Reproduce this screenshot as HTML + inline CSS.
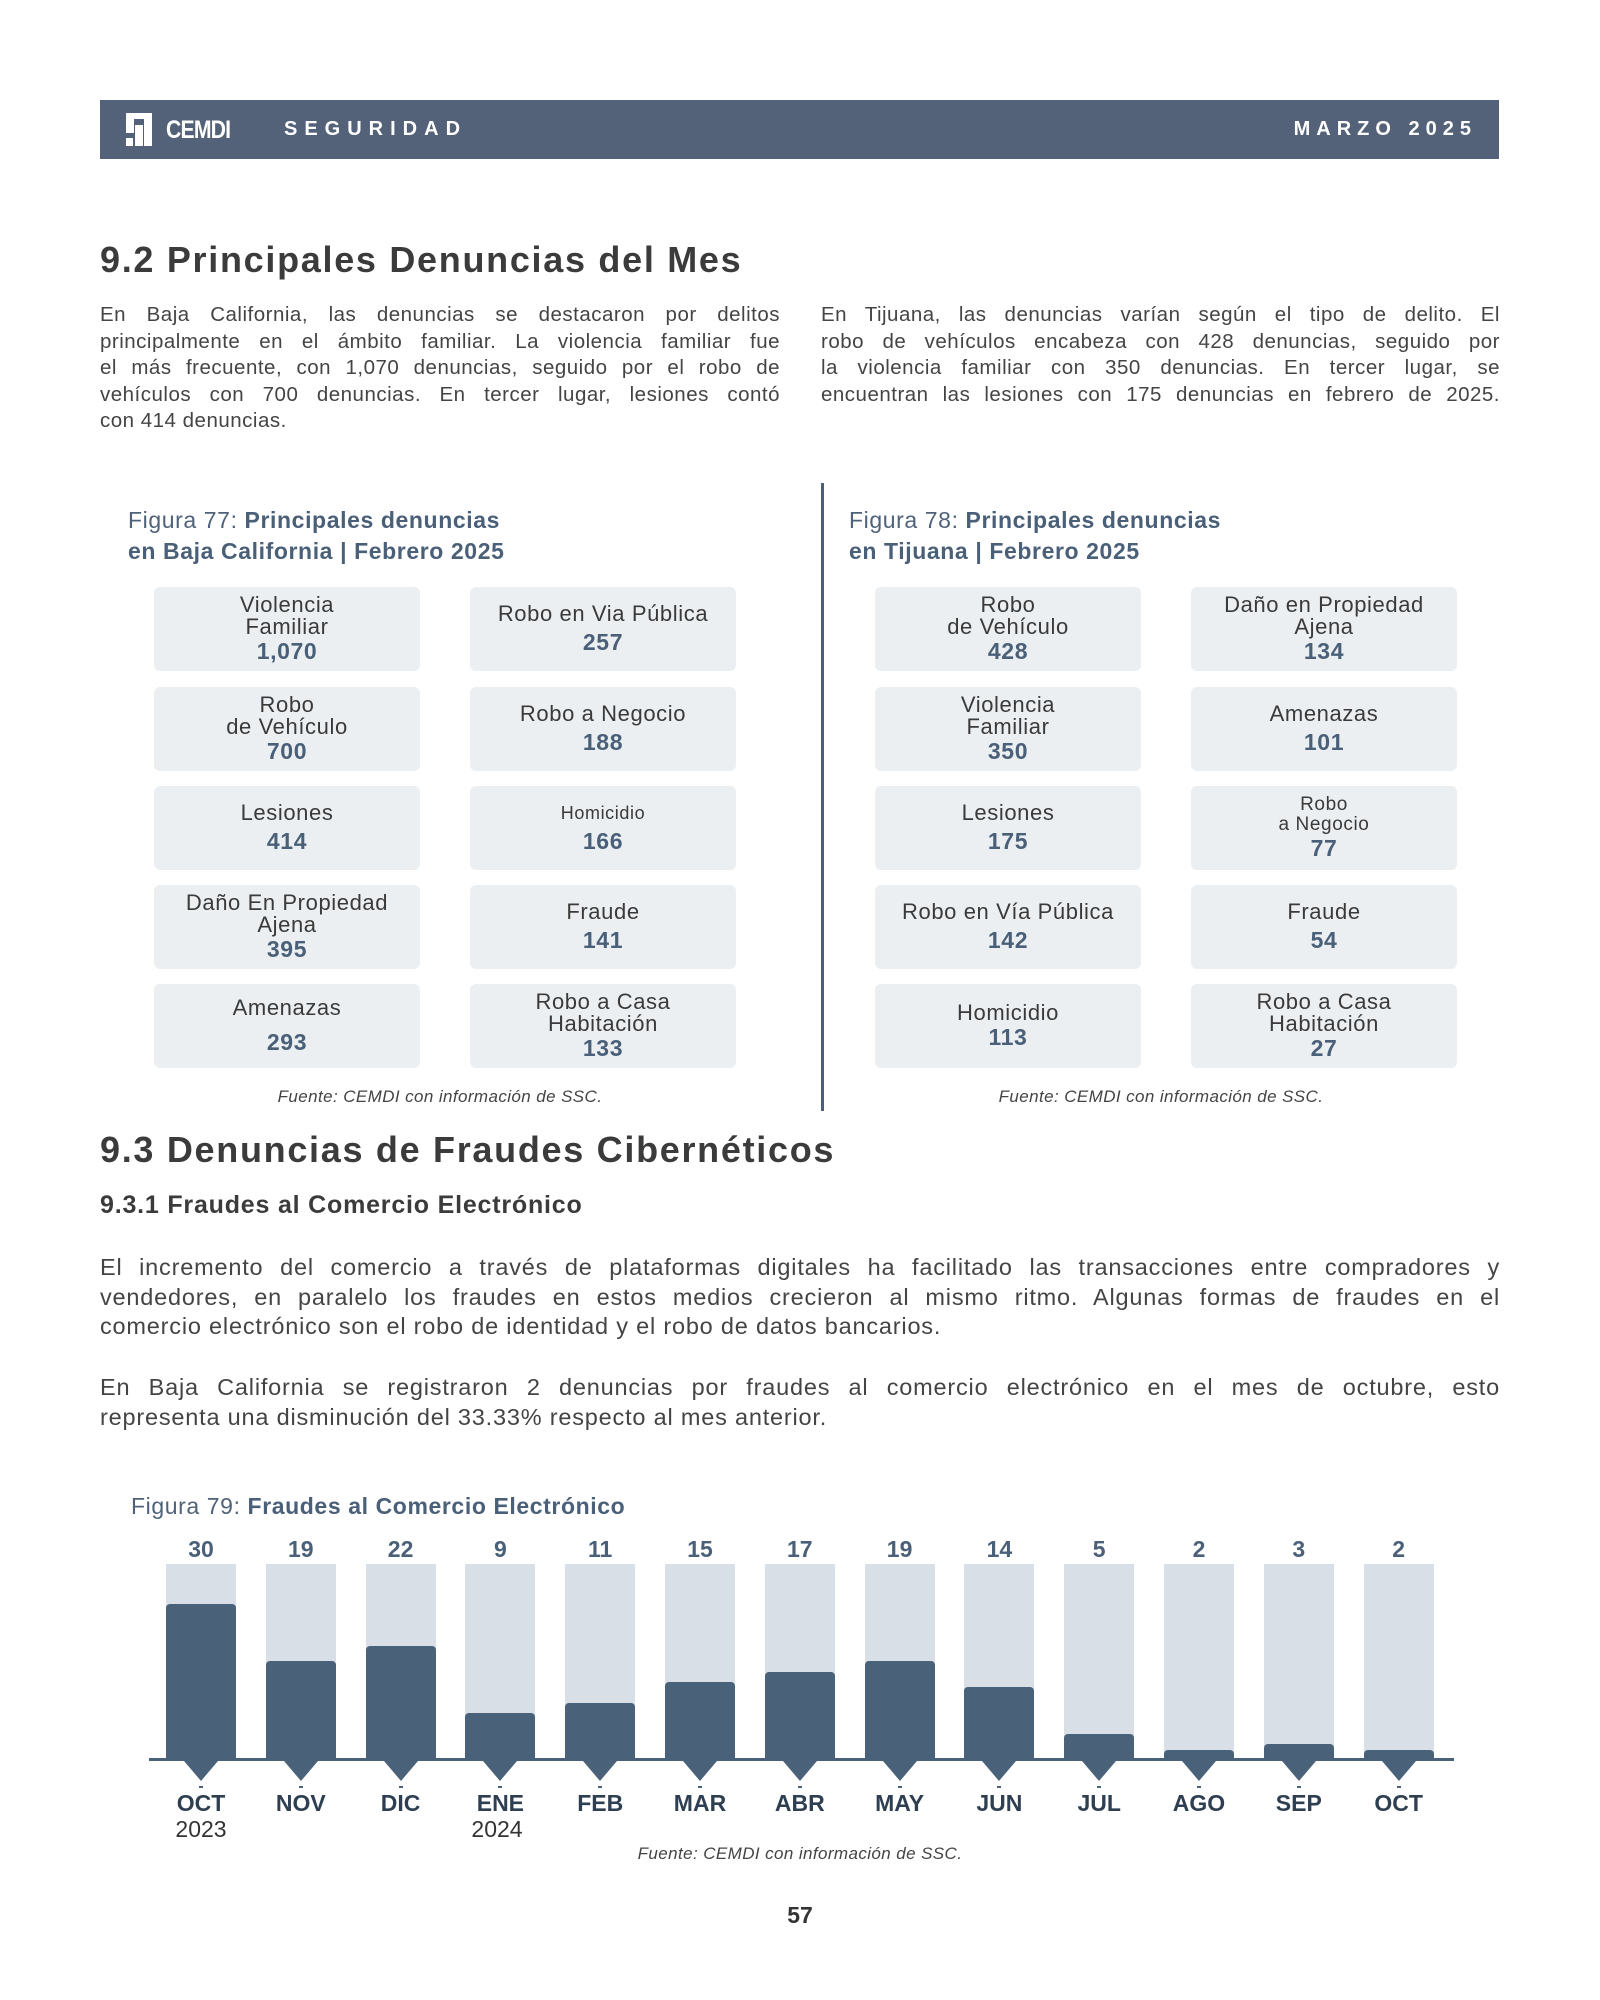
<!DOCTYPE html>
<html><head><meta charset="utf-8"><style>
*{margin:0;padding:0;box-sizing:border-box}
body{width:1600px;height:2000px;background:#fff;font-family:"Liberation Sans",sans-serif;color:#3a3a3a;position:relative;overflow:hidden}
.a{position:absolute}
.hdr{left:100px;top:100px;width:1399px;height:59px;background:#536278;color:#fff}
h2{position:absolute;font-size:36px;font-weight:bold;color:#3b3b3b;letter-spacing:1.7px}
.p{position:absolute;font-size:20.5px;line-height:26.6px;color:#444;letter-spacing:0.5px}
.p div{white-space:nowrap;text-align:justify;text-align-last:justify}
.p div.l{text-align-last:left}
.cap{position:absolute;font-size:23px;line-height:31px;color:#4f6279;letter-spacing:0.6px}
.cap b{color:#4a5f78}
.box{position:absolute;width:266px;height:84px;background:#eceff2;border-radius:6px;display:flex;flex-direction:column;justify-content:center;align-items:center;text-align:center;font-size:22px;line-height:22px;color:#3a3a3a;letter-spacing:0.6px}
.box b{color:#4a6079;font-size:23px;line-height:27px}
.src{position:absolute;font-size:17px;font-style:italic;color:#444;width:600px;text-align:center;letter-spacing:0.4px}
.bar{position:absolute;width:70px;background:#d8dfe7;top:1564px;height:196px}
.bar i{position:absolute;left:0;bottom:0;width:70px;background:#4a6279;border-radius:4px 4px 0 0}
.v{position:absolute;width:100px;text-align:center;font-weight:bold;font-size:23px;color:#4a6079;top:1536px}
.m{position:absolute;width:100px;text-align:center;font-weight:bold;font-size:23px;color:#2f3f52;top:1790px}
.y{position:absolute;width:100px;text-align:center;font-size:23px;color:#333;top:1816px}
.tri{position:absolute;top:1761px;width:0;height:0;border-left:17px solid transparent;border-right:17px solid transparent;border-top:20px solid #4a6279}
</style></head><body>
<div class="a hdr">
 <svg class="a" style="left:26px;top:13px" width="26" height="33"><rect x="0" y="0" width="8" height="20" fill="#fff"/><rect x="0" y="0" width="26" height="6" fill="#fff"/><rect x="18" y="0" width="8" height="33" fill="#fff"/><rect x="9" y="12" width="8" height="21" fill="#fff"/><rect x="0" y="25" width="7" height="8" fill="#fff"/></svg>
 <div class="a" style="left:66px;top:16px;font-size:25px;font-weight:bold;letter-spacing:-1px;transform:scaleX(.85);transform-origin:left">CEMDI</div>
 <div class="a" style="left:184px;top:18px;font-size:20px;font-weight:bold;letter-spacing:7px">SEGURIDAD</div>
 <div class="a" style="right:22px;top:18px;font-size:20px;font-weight:bold;letter-spacing:6px">MARZO 2025</div>
</div>
<h2 style="left:100px;top:239px">9.2 Principales Denuncias del Mes</h2>
<div class="p" style="left:100px;top:302px;width:680px">
<div>En Baja California, las denuncias se destacaron por delitos</div>
<div>principalmente en el ámbito familiar. La violencia familiar fue</div>
<div>el más frecuente, con 1,070 denuncias, seguido por el robo de</div>
<div>vehículos con 700 denuncias. En tercer lugar, lesiones contó</div>
<div class="l">con 414 denuncias.</div></div>
<div class="p" style="left:821px;top:302px;width:679px">
<div>En Tijuana, las denuncias varían según el tipo de delito. El</div>
<div>robo de vehículos encabeza con 428 denuncias, seguido por</div>
<div>la violencia familiar con 350 denuncias. En tercer lugar, se</div>
<div>encuentran las lesiones con 175 denuncias en febrero de 2025.</div></div>
<div class="a" style="left:821px;top:483px;width:3px;height:628px;background:#4a6079"></div>
<div class="cap" style="left:128px;top:505px">Figura 77: <b>Principales denuncias<br>en Baja California | Febrero 2025</b></div>
<div class="cap" style="left:849px;top:505px">Figura 78: <b>Principales denuncias<br>en Tijuana | Febrero 2025</b></div>

<div class="box" style="left:154px;top:587px">Violencia<br>Familiar<b>1,070</b></div>
<div class="box" style="left:154px;top:687px">Robo<br>de Vehículo<b>700</b></div>
<div class="box" style="left:154px;top:786px">Lesiones<b style="margin-top:4px">414</b></div>
<div class="box" style="left:154px;top:885px">Daño En Propiedad<br>Ajena<b>395</b></div>
<div class="box" style="left:154px;top:984px">Amenazas<b style="margin-top:10px">293</b></div>
<div class="box" style="left:470px;top:587px">Robo en Via Pública<b style="margin-top:4px">257</b></div>
<div class="box" style="left:470px;top:687px">Robo a Negocio<b style="margin-top:4px">188</b></div>
<div class="box" style="left:470px;top:786px;font-size:18px">Homicidio<b style="margin-top:4px">166</b></div>
<div class="box" style="left:470px;top:885px">Fraude<b style="margin-top:4px">141</b></div>
<div class="box" style="left:470px;top:984px">Robo a Casa<br>Habitación<b>133</b></div>

<div class="box" style="left:875px;top:587px">Robo<br>de Vehículo<b>428</b></div>
<div class="box" style="left:875px;top:687px">Violencia<br>Familiar<b>350</b></div>
<div class="box" style="left:875px;top:786px">Lesiones<b style="margin-top:4px">175</b></div>
<div class="box" style="left:875px;top:885px">Robo en Vía Pública<b style="margin-top:4px">142</b></div>
<div class="box" style="left:875px;top:984px">Homicidio<b>113</b></div>
<div class="box" style="left:1191px;top:587px">Daño en Propiedad<br>Ajena<b>134</b></div>
<div class="box" style="left:1191px;top:687px">Amenazas<b style="margin-top:4px">101</b></div>
<div class="box" style="left:1191px;top:786px;font-size:19px;line-height:20px">Robo<br>a Negocio<b>77</b></div>
<div class="box" style="left:1191px;top:885px">Fraude<b style="margin-top:4px">54</b></div>
<div class="box" style="left:1191px;top:984px">Robo a Casa<br>Habitación<b>27</b></div>

<div class="src" style="left:140px;top:1087px">Fuente: CEMDI con información de SSC.</div>
<div class="src" style="left:861px;top:1087px">Fuente: CEMDI con información de SSC.</div>

<h2 style="left:100px;top:1129px">9.3 Denuncias de Fraudes Cibernéticos</h2>
<div class="a" style="left:100px;top:1191px;font-size:25px;font-weight:bold;color:#3b3b3b;letter-spacing:0.8px">9.3.1 Fraudes al Comercio Electrónico</div>
<div class="p" style="left:100px;top:1253px;width:1400px;font-size:23.5px;line-height:29.5px;letter-spacing:0.8px">
<div>El incremento del comercio a través de plataformas digitales ha facilitado las transacciones entre compradores y</div>
<div>vendedores, en paralelo los fraudes en estos medios crecieron al mismo ritmo. Algunas formas de fraudes en el</div>
<div class="l">comercio electrónico son el robo de identidad y el robo de datos bancarios.</div></div>
<div class="p" style="left:100px;top:1373px;width:1400px;font-size:23.5px;line-height:29.5px;letter-spacing:0.8px">
<div>En Baja California se registraron 2 denuncias por fraudes al comercio electrónico en el mes de octubre, esto</div>
<div class="l">representa una disminución del 33.33% respecto al mes anterior.</div></div>
<div class="cap" style="left:131px;top:1491px">Figura 79: <b>Fraudes al Comercio Electrónico</b></div>

<div class="a" style="left:149px;top:1758px;width:1305px;height:3px;background:#4a6279"></div>
<div id="ch"></div>
<script>
var v=[30,19,22,9,11,15,17,19,14,5,2,3,2],m=["OCT","NOV","DIC","ENE","FEB","MAR","ABR","MAY","JUN","JUL","AGO","SEP","OCT"],h="";
for(var i=0;i<13;i++){var x=166+i*99.8;
h+='<div class="v" style="left:'+(x-15)+'px">'+v[i]+'</div>';
h+='<div class="bar" style="left:'+x+'px"><i style="height:'+(v[i]*5.2)+'px"></i></div>';
h+='<div class="tri" style="left:'+(x+18)+'px"></div>';
h+='<div class="a" style="left:'+(x+33)+'px;top:1786px;width:4px;height:2px;background:#4a6279"></div>';
h+='<div class="m" style="left:'+(x-15)+'px">'+m[i]+'</div>';}
h+='<div class="y" style="left:151px">2023</div><div class="y" style="left:447px">2024</div>';
document.getElementById("ch").innerHTML=h;
</script>
<div class="src" style="left:500px;top:1844px">Fuente: CEMDI con información de SSC.</div>
<div class="a" style="left:700px;top:1902px;width:200px;text-align:center;font-size:23px;font-weight:bold;color:#333">57</div>
</body></html>
